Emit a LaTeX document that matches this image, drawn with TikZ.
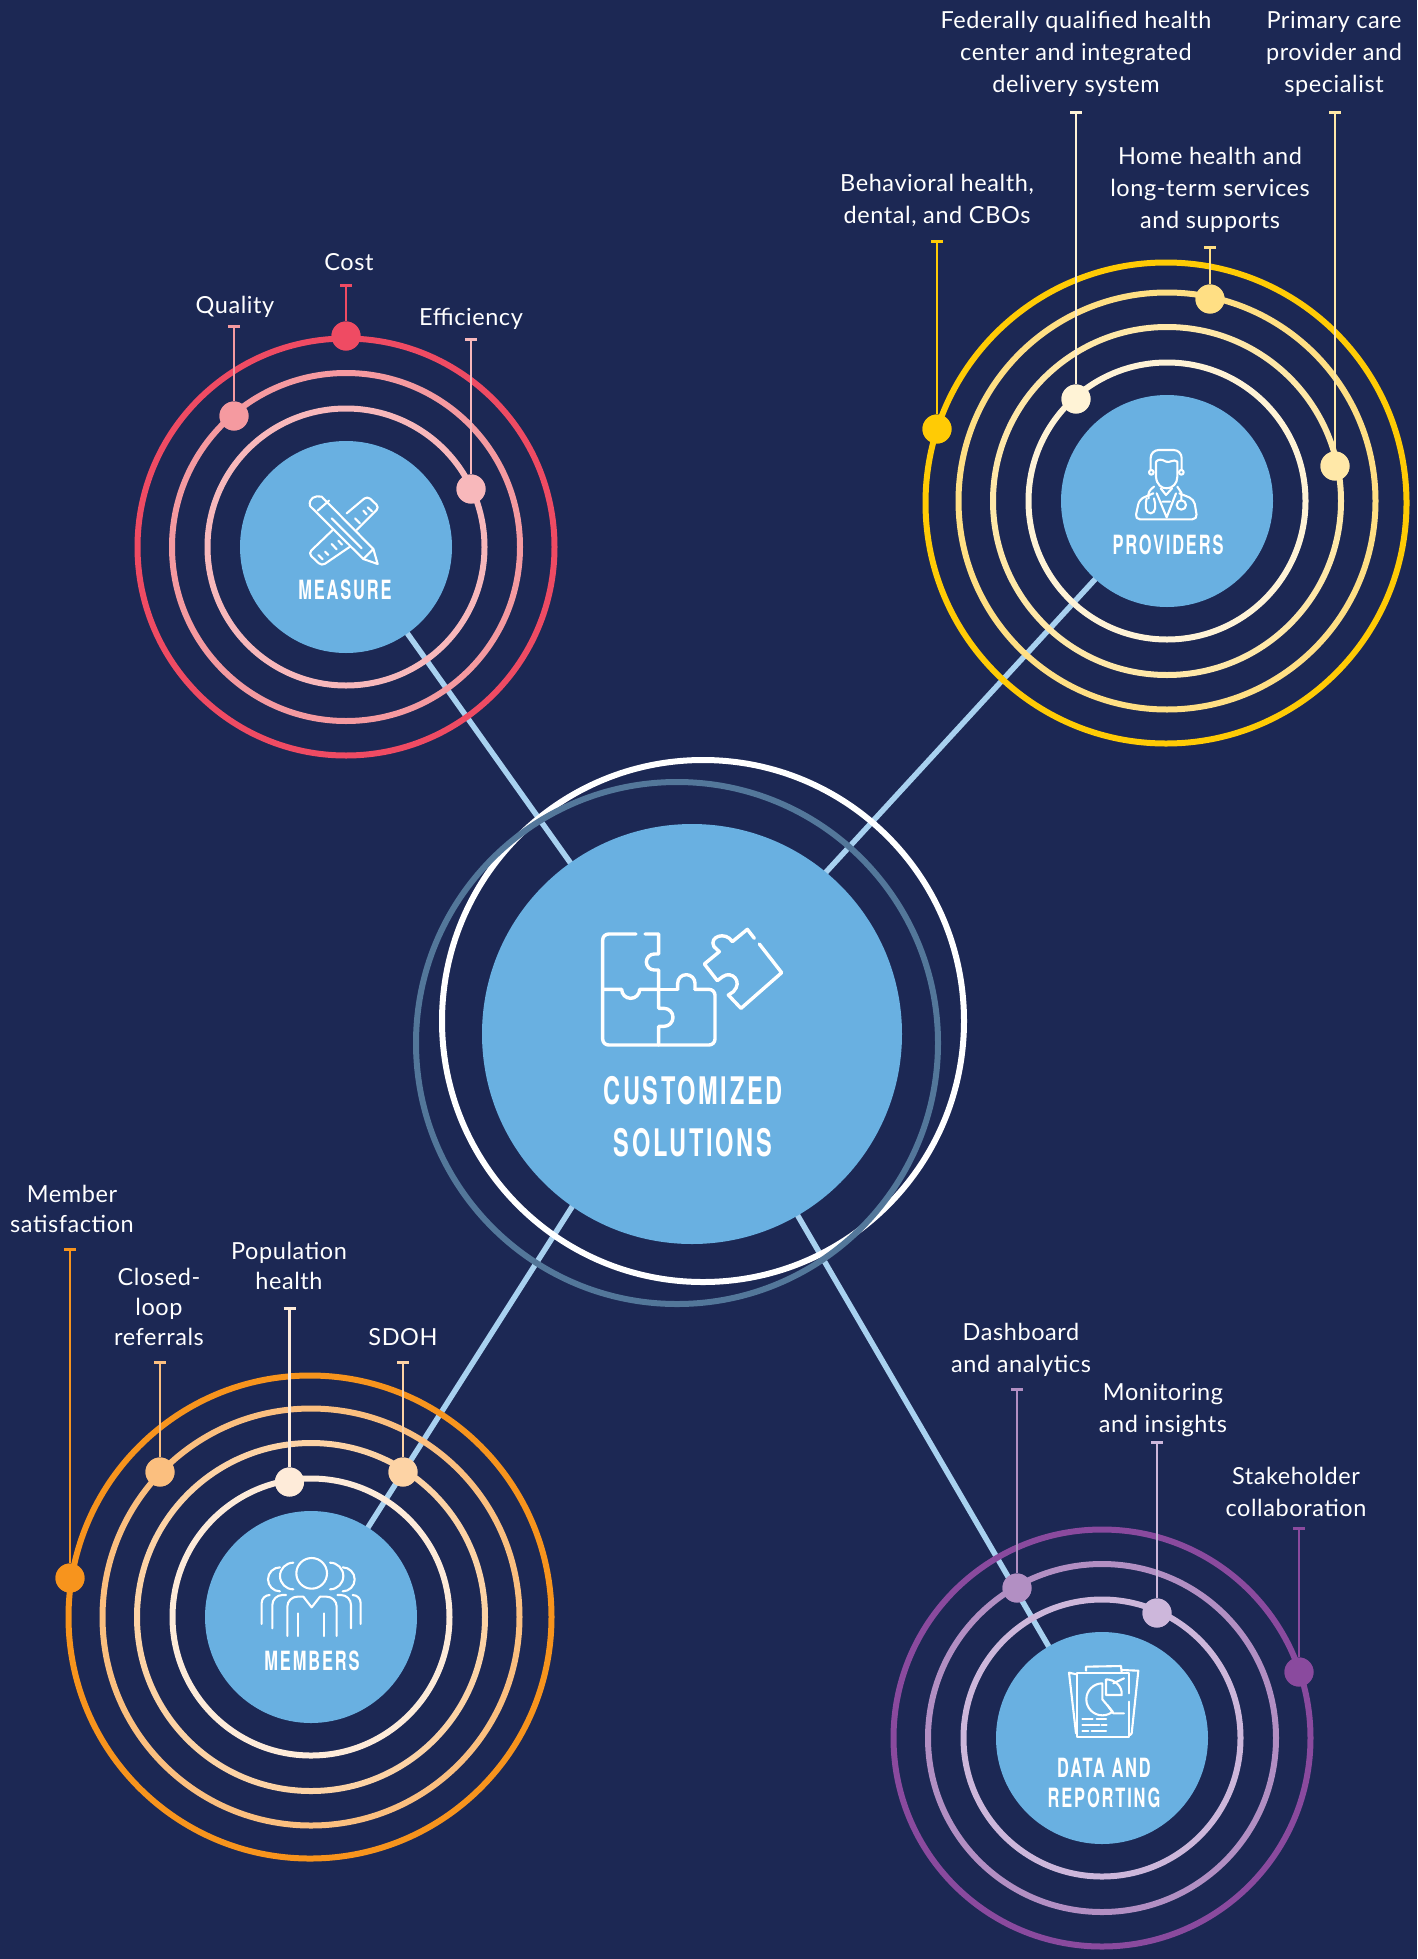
\documentclass[tikz,border=0pt]{standalone}
\usepackage{fontspec}
\usetikzlibrary{arrows.meta}
\setmainfont{Lato}[LetterSpace=2.5]
\newfontfamily\headfont{TeX Gyre Heros Bold}[FakeStretch=0.62,LetterSpace=7]
\definecolor{bg}{HTML}{1C2854}
\definecolor{hubc}{HTML}{69B0E1}
\definecolor{linkc}{HTML}{A8D1F0}
\definecolor{greyr}{HTML}{53779A}
\definecolor{ma}{HTML}{EF4B63}\definecolor{mb}{HTML}{F59AA0}\definecolor{mc}{HTML}{F8B8BB}
\definecolor{pa}{HTML}{FFCB05}\definecolor{pb}{HTML}{FFDF84}\definecolor{pc}{HTML}{FFE8A8}\definecolor{pd}{HTML}{FFF3D6}
\definecolor{ua}{HTML}{F7941D}\definecolor{ub}{HTML}{FBBF7F}\definecolor{uc}{HTML}{FDD3A5}\definecolor{ud}{HTML}{FEEBD9}
\definecolor{da}{HTML}{8A4A9E}\definecolor{db}{HTML}{B28FC3}\definecolor{dc}{HTML}{CDB7DB}
\tikzset{
 hub/.style={circle,fill=hubc,draw=none,inner sep=0pt,minimum size=212pt},
 bighub/.style={circle,fill=hubc,draw=none,inner sep=0pt,minimum size=420pt},
 ring/.style={line width=6pt,fill=none},
 link/.style={draw=linkc,line width=5.5pt},
 dotn/.style={circle,inner sep=0pt,minimum size=29pt,draw=none},
 stemline/.style={line width=2.8pt,-{Bar[width=12pt,line width=2.8pt]}},
 lab/.style={text=white,font=\fontsize{23.5}{32}\selectfont,align=center,inner sep=0pt},
 labtight/.style={text=white,font=\fontsize{23.5}{30}\selectfont,align=center,inner sep=0pt},
 hd/.style={text=white,font=\headfont\fontsize{26.5}{30}\selectfont,align=center,inner sep=0pt},
 hdbig/.style={text=white,font=\headfont\fontsize{38}{52}\selectfont,align=center,inner sep=0pt},
 icon/.style={draw=white,line width=2.1pt,line cap=round,line join=round},
 iconb/.style={draw=white,line width=3.4pt,line cap=round,line join=round},
}
\newcommand{\leaf}[6]{% name, x, top y, dot y, colour, (unused)
 \node[dotn,fill=#5] (#1) at (#2,#4) {};
 \coordinate (#1top) at (#2,#3);
 \draw[stemline,draw=#5] (#1) -- (#1top);
 \node[dotn,fill=#5] at (#1) {};
}
\begin{document}
\begin{tikzpicture}[x=1pt,y=-1pt]
\path[use as bounding box,fill=bg] (0,0) rectangle (1417,1959);
% hub anchor coordinates
\coordinate (cm) at (346,547);
\coordinate (cp) at (1167,501);
\coordinate (cu) at (311,1617);
\coordinate (cd) at (1102,1738);
\coordinate (cc) at (692,1034);
\coordinate (ccp) at (692,1018);
\coordinate (ccu) at (682,1034);
% connectors
\draw[link] (cc) -- (cm);
\draw[link] (ccp) -- (cp);
\draw[link] (ccu) -- (cu);
\draw[link] (cc) -- (cd);
% central rings
\draw[ring,draw=white] (703,1021) circle (261);
\draw[ring,draw=greyr] (677,1043) circle (261);
% measure rings
\draw[ring,draw=ma] (cm) circle (208.5);
\draw[ring,draw=mb] (cm) circle (174);
\draw[ring,draw=mc] (cm) circle (138.5);
% providers rings
\draw[ring,draw=pa] (1166,503) circle (240.5);
\draw[ring,draw=pb] (cp) circle (208.5);
\draw[ring,draw=pc] (cp) circle (174);
\draw[ring,draw=pd] (cp) circle (138.5);
% members rings
\draw[ring,draw=ua] (310,1617) circle (241.5);
\draw[ring,draw=ub] (cu) circle (208.5);
\draw[ring,draw=uc] (cu) circle (174);
\draw[ring,draw=ud] (cu) circle (138.5);
% data rings
\draw[ring,draw=da] (cd) circle (208.5);
\draw[ring,draw=db] (cd) circle (174);
\draw[ring,draw=dc] (cd) circle (138.5);
% hubs
\node[bighub] (hc) at (cc) {};
\node[hub] (hm) at (cm) {};
\node[hub] (hp) at (cp) {};
\node[hub] (hu) at (cu) {};
\node[hub] (hd) at (cd) {};
% leaves
\leaf{cost}{346}{284}{336}{ma}{}
\leaf{quality}{234}{325}{416}{mb}{}
\leaf{effic}{471}{338}{489}{mc}{}
\leaf{behav}{937}{240}{429}{pa}{}
\leaf{fed}{1076}{111}{399}{pd}{}
\leaf{home}{1210}{246}{299}{pb}{}
\leaf{prim}{1335}{111}{466}{pc}{}
\leaf{memsat}{70}{1248}{1578}{ua}{}
\leaf{closed}{160}{1361}{1472}{ub}{}
\leaf{popul}{289.5}{1307}{1482}{ud}{}
\leaf{sdoh}{403}{1361}{1472}{uc}{}
\leaf{dash}{1017}{1388}{1588}{db}{}
\leaf{monit}{1157}{1441}{1613}{dc}{}
\leaf{stake}{1299}{1527}{1672}{da}{}
% labels
\node[lab] (lcost) at (349,262) {Cost};
\node[lab] (lqual) at (235,306.5) {Quality};
\node[lab] (leff) at (471,318.5) {Efficiency};
\node[lab] (lbeh) at (937,200) {Behavioral health,\\dental, and CBOs};
\node[lab] (lfed) at (1076,53.5) {Federally qualified health\\center and integrated\\delivery system};
\node[lab] (lhome) at (1210,189.5) {Home health and\\long-term services\\and supports};
\node[lab] (lprim) at (1334,53.5) {Primary care\\provider and\\specialist};
\node[labtight] (lmem) at (72,1209) {Member\\satisfaction};
\node[labtight] (lclo) at (159,1307) {Closed-\\loop\\referrals};
\node[labtight] (lpop) at (289,1266) {Population\\health};
\node[lab] (lsd) at (403,1337) {SDOH};
\node[lab] (ldash) at (1021,1349.5) {Dashboard\\and analytics};
\node[lab] (lmon) at (1163,1410.5) {Monitoring\\and insights};
\node[lab] (lsta) at (1296,1492) {Stakeholder\\collaboration};
% headings
\node[hdbig] (tcs) at (693,1117) {CUSTOMIZED\\SOLUTIONS};
\node[hd] (tm) at (345,590) {MEASURE};
\node[hd] (tp) at (1168,545) {PROVIDERS};
\node[hd] (tu) at (312,1661) {MEMBERS};
\node[hd] (td) at (1104,1783) {DATA AND\\REPORTING};
% puzzle icon
\begin{scope}[shift={(560,880)},x=0.33333pt,y=-0.33333pt]
\draw[iconb,rounded corners=6pt] (228,162) -- (128,162) -- (128,495) -- (465,495) -- (465,328) -- (405,328);
\draw[iconb] (405,328) -- (405,310) arc[start angle=0,end angle=180,x radius=26,y radius=-26] -- (353,328);
\draw[iconb] (353,328) -- (296,328);
\draw[iconb] (128,328) -- (185,328) arc[start angle=180,end angle=360,x radius=27,y radius=-27] -- (296,328);
\draw[iconb] (255,162) -- (296,162) -- (296,222) -- (283,222) arc[start angle=90,end angle=270,x radius=24,y radius=-24] -- (296,270) -- (296,385) -- (312,385) arc[start angle=90,end angle=-90,x radius=27,y radius=-27] -- (296,439) -- (296,495);
\draw[iconb] (583,175) -- (562,148) -- (517,185) .. controls (497,152) and (445,170) .. (462,200) -- (478,215) -- (433,252) -- (472,302) -- (488,290) .. controls (515,270) and (550,305) .. (520,335) -- (505,345) -- (543,385) -- (665,278) -- (598,192);
\end{scope}
% measure icon
\begin{scope}[shift={(280,470)},x=0.33333pt,y=-0.33333pt]
\draw[icon,rounded corners=4pt] (200,130) -- (262,78) -- (298,112) -- (230,180);
\draw[icon,rounded corners=4pt] (158,180) -- (85,250) -- (125,288) -- (210,230);
\draw[icon] (90,108) .. controls (85,85) and (105,75) .. (125,80) -- (280,237) -- (293,282) -- (250,267) -- (90,108);
\draw[icon] (113,122) -- (147,92);
\draw[icon] (250,267) -- (280,237);
\draw[icon] (155,145) -- (245,235);
\draw[icon] (115,255) -- (128,268) (135,245) -- (145,255) (155,222) -- (170,238) (175,212) -- (186,224);
\draw[icon] (225,145) -- (240,160) (250,122) -- (260,133) (263,112) -- (276,124);
\end{scope}
% provider icon
\begin{scope}[shift={(1090,430)},x=0.33333pt,y=-0.33333pt]
\draw[icon,rounded corners=8pt] (182,120) -- (182,60) -- (275,60) -- (275,120);
\draw[icon] (184,127) circle (7) (274,127) circle (7);
\draw[icon] (198,95) -- (198,140) .. controls (200,165) and (215,175) .. (230,175) .. controls (248,175) and (262,160) .. (262,140) -- (262,95) .. controls (250,85) and (240,100) .. (228,95) .. controls (215,87) and (205,87) .. (198,95);
\draw[icon,rounded corners=5pt] (190,190) -- (148,208) -- (135,268) -- (322,268) -- (312,208) -- (268,190);
\draw[icon] (200,190) -- (230,262) -- (258,190) (218,215) -- (240,215) (212,175) -- (228,195) -- (246,175);
\draw[icon] (192,170) .. controls (178,180) and (172,190) .. (176,205);
\draw[icon] (170,205) .. controls (165,225) and (165,250) .. (182,250) .. controls (198,250) and (198,225) .. (192,205);
\draw[icon] (274,225) circle (14);
\draw[icon] (274,211) -- (274,188) -- (262,170);
\end{scope}
% members icon
\begin{scope}[shift={(240,1500)},x=0.33333pt,y=-0.33333pt]
\draw[icon] (215,220) circle[radius=46];
\draw[icon] (160,188) arc[start angle=-90,end angle=-270,radius=40];
\draw[icon] (120,202) arc[start angle=-90,end angle=-270,radius=36];
\draw[icon] (270,188) arc[start angle=-90,end angle=90,radius=40];
\draw[icon] (308,202) arc[start angle=-90,end angle=90,radius=36];
\draw[icon,rounded corners=10pt] (142,408) -- (142,290) -- (190,290);
\draw[icon] (190,290) -- (215,322) -- (240,290);
\draw[icon,rounded corners=10pt] (240,290) -- (290,290) -- (290,408);
\draw[icon] (175,340) -- (175,408) (253,340) -- (253,408);
\draw[icon,rounded corners=10pt] (97,385) -- (97,285) -- (138,285);
\draw[icon,rounded corners=8pt] (65,372) -- (65,285) -- (88,285);
\draw[icon,rounded corners=10pt] (333,385) -- (333,285) -- (292,285);
\draw[icon,rounded corners=8pt] (362,372) -- (362,285) -- (338,285);
\end{scope}
% data icon
\begin{scope}[shift={(1050,1650)},x=0.33333pt,y=-0.33333pt]
\draw[icon] (238,130) -- (238,70) -- (80,70) -- (80,262) -- (238,262) -- (238,155);
\draw[icon] (80,73) -- (57,68) -- (78,250);
\draw[icon] (215,60) -- (265,62) -- (245,250) -- (240,255);
\draw[icon] (108,62) -- (108,50) -- (213,48) -- (215,68);
\draw[icon] (157,100) arc[start angle=-90,end angle=-310,radius=48] -- (157,148) -- (157,100);
\draw[icon] (168,88) -- (168,135) -- (215,135) .. controls (218,110) and (195,88) .. (168,88);
\draw[icon] (190,100) -- (222,85) (172,165) -- (190,190) -- (222,190);
\draw[icon] (97,208) -- (128,208) (140,208) -- (168,208) (97,226) -- (148,226) (155,226) -- (170,226) (97,242) -- (115,242) (125,242) -- (168,242);
\end{scope}
\end{tikzpicture}
\end{document}
